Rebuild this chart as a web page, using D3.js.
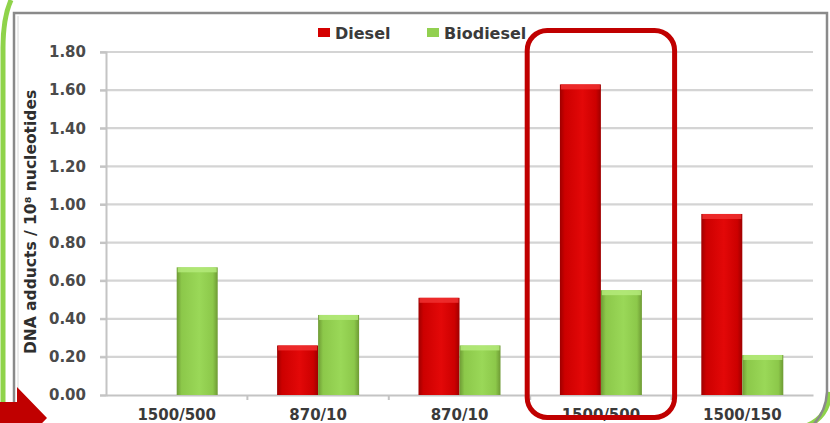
<!DOCTYPE html>
<html>
<head>
<meta charset="utf-8">
<script src="https://cdn.jsdelivr.net/npm/d3@7"></script>
<style>
  html, body { margin: 0; padding: 0; background: #ffffff; }
  svg { display: block; }
  text { font-family: "DejaVu Sans", Verdana, sans-serif; }
</style>
</head>
<body>
<div id="chart"></div>
<script>
// ---- data ----
const categories = ["1500/500", "870/10", "870/10", "1500/500", "1500/150"];
const seriesNames = ["Diesel", "Biodiesel"];
const dieselValues = [null, 0.26, 0.51, 1.63, 0.95];
const biodieselValues = [0.67, 0.42, 0.26, 0.55, 0.21];
const yTicks = [0, 0.2, 0.4, 0.6, 0.8, 1.0, 1.2, 1.4, 1.6, 1.8];
const yTitle = "DNA adducts / 10\u2078 nucleotides";
const highlightIndex = 3;

// ---- layout ----
const W = 830, H = 423;
const plot = { left: 106, right: 813, top: 52, bottom: 395 };
const colors = { Diesel: "#d40000", Biodiesel: "#92d050" };
const FONT = "'DejaVu Sans', Verdana, sans-serif";

const svg = d3.select("#chart").append("svg").attr("width", W).attr("height", H);
const defs = svg.append("defs");

function barGradient(id, dark, mid, light) {
  const g = defs.append("linearGradient").attr("id", id).attr("x1", "0").attr("x2", "1").attr("y1", "0").attr("y2", "0");
  g.append("stop").attr("offset", "0%").attr("stop-color", dark);
  g.append("stop").attr("offset", "12%").attr("stop-color", mid);
  g.append("stop").attr("offset", "55%").attr("stop-color", light);
  g.append("stop").attr("offset", "88%").attr("stop-color", mid);
  g.append("stop").attr("offset", "100%").attr("stop-color", dark);
}
barGradient("gDiesel", "#9e0000", "#cc0000", "#e30808");
barGradient("gBiodiesel", "#6e9a34", "#8cc84a", "#9ad858");

// frame: green rounded outline + gray border
svg.append("path")
  .attr("d", "M11,0 Q3,18 3,48 L3,423")
  .attr("fill", "none").attr("stroke", "#8fd34a").attr("stroke-width", 5);
svg.append("path")
  .attr("d", "M830,392 Q828,418 806,426")
  .attr("fill", "none").attr("stroke", "#8fd34a").attr("stroke-width", 5);
svg.append("path")
  .attr("d", "M14,430 L14,13 L827,13 L827,392 Q826,412 812,426")
  .attr("fill", "none").attr("stroke", "#8a8a8a").attr("stroke-width", 2.5);
svg.append("line").attr("x1", 18).attr("x2", 18).attr("y1", 16).attr("y2", 430)
  .attr("stroke", "#d8d8d8").attr("stroke-width", 1);

// ---- scales ----
const x = d3.scaleBand().domain(d3.range(categories.length)).range([plot.left, plot.right]).padding(0);
const barW = 41;
const xSub = d3.scaleBand().domain(seriesNames)
  .range([(x.bandwidth() - 2 * barW) / 2, (x.bandwidth() + 2 * barW) / 2]).padding(0);
const y = d3.scaleLinear().domain([0, 1.8]).range([plot.bottom, plot.top]);

// gridlines
svg.append("g").selectAll("line").data(yTicks.slice(1)).join("line")
  .attr("x1", plot.left - 6).attr("x2", plot.right)
  .attr("y1", d => y(d)).attr("y2", d => y(d))
  .attr("stroke", "#d4d4d4").attr("stroke-width", 2.2);

// y axis
const yAxis = svg.append("g").attr("transform", `translate(${plot.left},0)`)
  .call(d3.axisLeft(y).tickValues(yTicks).tickFormat(d3.format(".2f")).tickSize(6).tickPadding(14));
yAxis.select(".domain").attr("stroke", "#c4c4c4").attr("stroke-width", 2);
yAxis.selectAll(".tick line").attr("stroke", "#c4c4c4").attr("stroke-width", 2);
yAxis.selectAll(".tick text").attr("fill", "#4a4a4a").attr("font-size", 15).attr("font-weight", "bold")
  .attr("font-family", FONT);

// x axis
const xAxis = svg.append("g").attr("transform", `translate(0,${plot.bottom})`)
  .call(d3.axisBottom(x).tickFormat(i => categories[i]).tickSize(0).tickPadding(14));
xAxis.select(".domain").attr("stroke", "#c4c4c4").attr("stroke-width", 2);
xAxis.selectAll(".tick text").attr("fill", "#3a3a3a").attr("font-size", 15).attr("font-weight", "bold")
  .attr("font-family", FONT);
// boundary tick marks between categories
svg.append("g").selectAll("line").data(d3.range(1, categories.length)).join("line")
  .attr("x1", i => x(i)).attr("x2", i => x(i))
  .attr("y1", plot.bottom).attr("y2", plot.bottom + 5)
  .attr("stroke", "#c4c4c4").attr("stroke-width", 2);

// bars
const rows = categories.map((c, i) => ({ i, values: [
  { key: "Diesel", v: dieselValues[i] },
  { key: "Biodiesel", v: biodieselValues[i] }
]}));
const groups = svg.append("g").selectAll("g").data(rows).join("g")
  .attr("transform", d => `translate(${x(d.i)},0)`);
const bars = groups.selectAll("g").data(d => d.values.filter(v => v.v != null)).join("g");
bars.append("rect")
  .attr("x", d => xSub(d.key)).attr("width", xSub.bandwidth())
  .attr("y", d => y(d.v)).attr("height", d => y(0) - y(d.v))
  .attr("fill", d => d.key === "Diesel" ? "url(#gDiesel)" : "url(#gBiodiesel)");
bars.append("rect")
  .attr("x", d => xSub(d.key) + 1).attr("width", xSub.bandwidth() - 2)
  .attr("y", d => y(d.v)).attr("height", 5)
  .attr("fill", d => d.key === "Diesel" ? "#f03030" : "#b4ea7a").attr("opacity", 0.85);

// legend
const legendItems = [
  { key: "Diesel", xPos: 318 },
  { key: "Biodiesel", xPos: 427 }
];
const lg = svg.append("g").selectAll("g").data(legendItems).join("g")
  .attr("transform", d => `translate(${d.xPos},28)`);
lg.append("rect").attr("width", 12).attr("height", 9).attr("fill", d => colors[d.key]);
lg.append("text").attr("x", 17).attr("y", 10.5).text(d => d.key)
  .attr("fill", "#3a3a3a").attr("font-size", 16).attr("font-weight", "bold");

// y title
svg.append("text")
  .attr("transform", `translate(36,222) rotate(-90)`)
  .attr("text-anchor", "middle")
  .attr("fill", "#2e2e2e").attr("font-size", 15.5).attr("font-weight", "bold")
  .text(yTitle);

// highlight box around one group
svg.append("rect")
  .attr("x", x(highlightIndex) - 3).attr("width", x.bandwidth() + 6)
  .attr("y", 30.5).attr("height", 387)
  .attr("rx", 20).attr("ry", 20)
  .attr("fill", "none").attr("stroke", "#c00000").attr("stroke-width", 5);

// red arrow bottom-left
svg.append("path")
  .attr("d", "M0,402 L17,402 L17,387 L47,418 L17,449 L17,434 L0,434 Z")
  .attr("fill", "#c00000");
</script>
</body>
</html>
